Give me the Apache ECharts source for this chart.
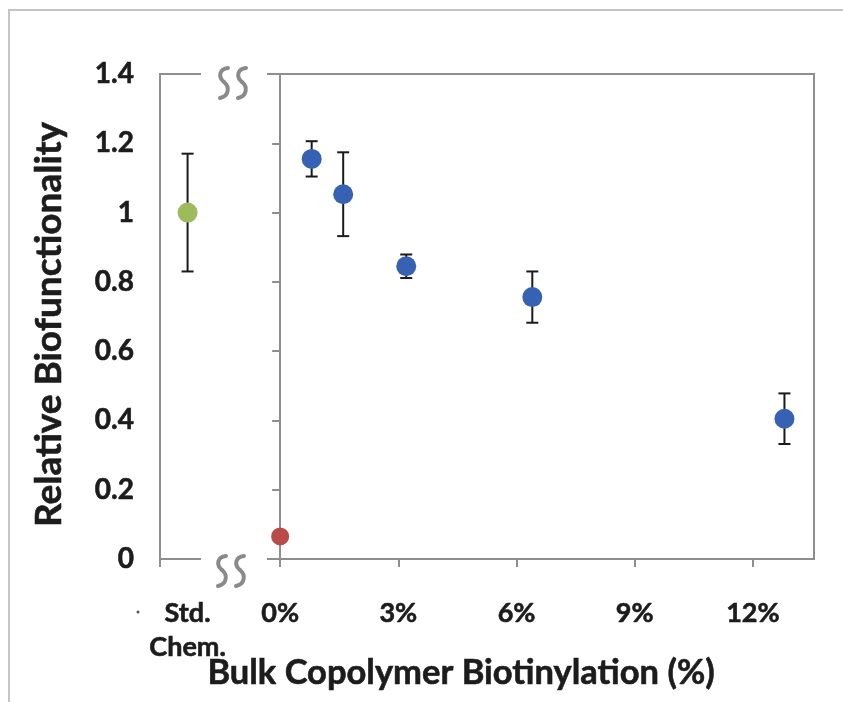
<!DOCTYPE html>
<html>
<head>
<meta charset="utf-8">
<script src="https://cdn.jsdelivr.net/npm/echarts@6/dist/echarts.min.js"></script>
<style>
  html, body { margin: 0; padding: 0; background: #fff; overflow: hidden; }
  #chart { width: 843px; height: 702px; }
</style>
</head>
<body>
<div id="chart"></div>
<script>
// Standard chemistry reference
const stdX = -2.35;
const stdY = 1.0;
const stdErr = 0.17;
// Unbiotinylated control
const ctrlX = 0;
const ctrlY = 0.065;
// Bulk copolymer biotinylation series
const biotX = [0.8, 1.6, 3.2, 6.4, 12.8];
const biotY = [1.155, 1.053, 0.845, 0.756, 0.405];
const biotErr = [0.051, 0.121, 0.034, 0.074, 0.073];
// Axis tick positions
const xTicks = [0, 3, 6, 9, 12];
const stdLabel = 'Std.\nChem.';

const FONT = 'Lato';
const TEXT = '#1c1c1c';
const AXIS = '#8e8e8e';
// slightly heavier strokes on the bold text
const heavy = { textBorderColor: TEXT, textBorderWidth: 0.6 };

const errRows = [[stdX, stdY, stdErr]].concat(biotX.map((x, i) => [x, biotY[i], biotErr[i]]));

function errorBar(params, api) {
  const x = api.value(0), y = api.value(1), e = api.value(2);
  const top = api.coord([x, y + e]);
  const bot = api.coord([x, y - e]);
  const cap = 6;
  const style = { stroke: '#1a1a1a', lineWidth: 2 };
  return {
    type: 'group',
    children: [
      { type: 'line', shape: { x1: top[0], y1: top[1], x2: bot[0], y2: bot[1] }, style },
      { type: 'line', shape: { x1: top[0] - cap, y1: top[1], x2: top[0] + cap, y2: top[1] }, style },
      { type: 'line', shape: { x1: bot[0] - cap, y1: bot[1], x2: bot[0] + cap, y2: bot[1] }, style }
    ]
  };
}

// Axis-break squiggle: a vertical S made of two cubic curves
function squiggle(ox, oy) {
  const style = { fill: 'none', stroke: '#8a8a8a', lineWidth: 4, lineCap: 'round' };
  return [
    { type: 'bezierCurve', z: 101, style,
      shape: { x1: ox + 9, y1: oy, cpx1: ox, cpy1: oy + 1, cpx2: ox - 1, cpy2: oy + 9, x2: ox + 5, y2: oy + 14 } },
    { type: 'bezierCurve', z: 101, style,
      shape: { x1: ox + 5, y1: oy + 14, cpx1: ox + 11, cpy1: oy + 19, cpx2: ox + 10, cpy2: oy + 28, x2: ox + 1, y2: oy + 30 } }
  ];
}

const chart = echarts.init(document.getElementById('chart'), null, { renderer: 'canvas' });
chart.setOption({
  animation: false,
  backgroundColor: '#fff',
  grid: {
    left: 160, right: 29, top: 74, bottom: 143,
    outerBoundsMode: 'none', containLabel: false,
    show: true, borderColor: AXIS, borderWidth: 2
  },
  xAxis: {
    type: 'value',
    min: -3.05,
    max: 13.55,
    splitLine: { show: false },
    axisLine: { lineStyle: { color: AXIS, width: 2 } },
    axisTick: { show: true, length: 8, lineStyle: { color: AXIS, width: 2 }, customValues: [-3.05].concat(xTicks) },
    axisLabel: Object.assign({
      customValues: [stdX].concat(xTicks),
      margin: 37,
      fontFamily: FONT, fontWeight: 'bold', fontSize: 27, color: TEXT, lineHeight: 34,
      formatter: v => (Math.abs(v - stdX) < 1e-6 ? stdLabel : v + '%')
    }, heavy),
    name: 'Bulk Copolymer Biotinylation (%)',
    nameLocation: 'middle',
    nameMoveOverlap: false,
    nameGap: 96,
    nameTextStyle: Object.assign({ fontFamily: FONT, fontWeight: 'bold', fontSize: 34.5, color: TEXT, padding: [0, 52, 0, 0] }, heavy)
  },
  yAxis: {
    type: 'value',
    min: 0,
    max: 1.4,
    interval: 0.2,
    splitLine: { show: false },
    axisLine: { show: true, lineStyle: { color: AXIS, width: 2 } },
    axisTick: { show: true, length: 8, lineStyle: { color: AXIS, width: 2 } },
    axisLabel: Object.assign({ margin: 26, fontFamily: FONT, fontWeight: 'bold', fontSize: 28, color: TEXT, padding: [18, 0, 0, 0] }, heavy),
    name: 'Relative Biofunctionality',
    nameLocation: 'middle',
    nameMoveOverlap: false,
    nameGap: 92,
    nameTextStyle: Object.assign({ fontFamily: FONT, fontWeight: 'bold', fontSize: 37, color: TEXT, padding: [0, 16, 0, 0] }, heavy)
  },
  graphic: [
    { type: 'polyline', shape: { points: [[9, 702], [9, 10], [843, 10]] }, style: { fill: 'none', stroke: '#c4c4c4', lineWidth: 2 }, silent: true },
    // small dot left of the first category label
    { type: 'circle', shape: { cx: 138, cy: 612, r: 1.5 }, style: { fill: '#555' }, silent: true },
    // axis break: gaps in the top border and the x axis
    { type: 'rect', shape: { x: 201, y: 69, width: 66, height: 11 }, style: { fill: '#fff' }, z: 100 },
    { type: 'rect', shape: { x: 201, y: 554, width: 66, height: 11 }, style: { fill: '#fff' }, z: 100 }
  ].concat(squiggle(219, 68), squiggle(237, 68), squiggle(217, 556), squiggle(235, 556)),
  series: [
    {
      type: 'custom',
      renderItem: errorBar,
      data: errRows,
      z: 2
    },
    {
      name: 'Std. Chem.',
      type: 'scatter',
      symbolSize: 20,
      itemStyle: { color: '#9cbc5b', opacity: 1 },
      data: [[stdX, stdY]],
      z: 3
    },
    {
      name: 'Control',
      type: 'scatter',
      symbolSize: 18,
      itemStyle: { color: '#b94b48', opacity: 1 },
      data: [[ctrlX, ctrlY]],
      z: 3
    },
    {
      name: 'Biotinylated',
      type: 'scatter',
      symbolSize: 20,
      itemStyle: { color: '#3761b2', opacity: 1 },
      data: biotX.map((x, i) => [x, biotY[i]]),
      z: 3
    }
  ]
});
</script>
</body>
</html>
